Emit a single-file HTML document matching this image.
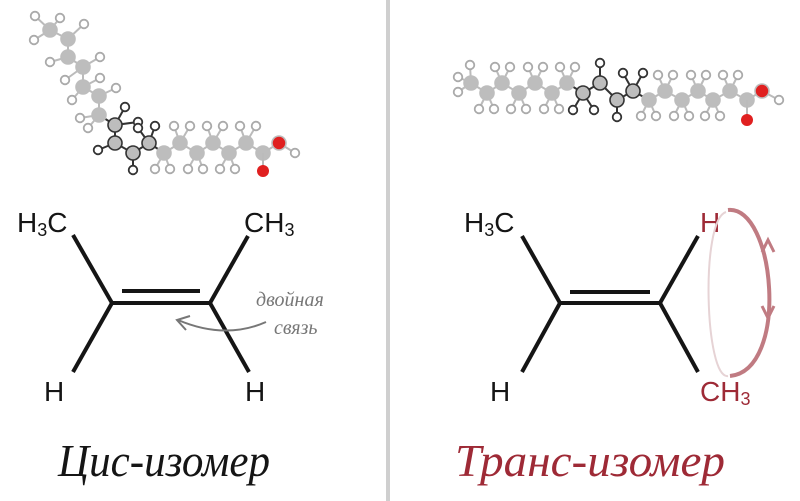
<!DOCTYPE html>
<html><head><meta charset="utf-8"><style>
html,body{margin:0;padding:0;background:#fff;width:800px;height:501px;overflow:hidden}
svg{display:block}
text{font-family:"Liberation Sans",sans-serif}
</style></head><body>
<svg id="s" width="800" height="501" viewBox="0 0 800 501" xmlns="http://www.w3.org/2000/svg">
<rect x="386" y="0" width="4" height="501" fill="#cfcfcf"/>
<g id="mol"></g>
<!-- cis -->
<g stroke="#151515" stroke-width="4" stroke-linecap="butt" fill="none">
<line x1="73" y1="235" x2="112" y2="303"/>
<line x1="110" y1="303" x2="212" y2="303"/>
<line x1="122" y1="291" x2="200" y2="291"/>
<line x1="210" y1="303" x2="248" y2="236"/>
<line x1="112" y1="303" x2="73" y2="372"/>
<line x1="210" y1="303" x2="249" y2="372"/>
</g>
<g fill="#151515" font-size="28">
<text x="17" y="232">H<tspan font-size="18" dy="4">3</tspan><tspan dy="-4">C</tspan></text>
<text x="244" y="232">CH<tspan font-size="18" dy="4">3</tspan></text>
<text x="44" y="401">H</text>
<text x="245" y="401">H</text>
</g>
<g fill="#777" font-size="20" font-style="italic">
<text x="256" y="306" style="font-family:'Liberation Serif',serif">двойная</text>
<text x="274" y="334" style="font-family:'Liberation Serif',serif">связь</text>
</g>
<path d="M266 322 Q225 340 178 320" stroke="#777" stroke-width="2" fill="none"/>
<path d="M190 316 L177 320 L186 330" stroke="#777" stroke-width="2" fill="none"/>
<text x="58" y="476" font-size="46" font-style="italic" fill="#151515" textLength="212" lengthAdjust="spacingAndGlyphs" style="font-family:'Liberation Serif',serif">Цис-изомер</text>
<!-- trans -->
<g stroke="#151515" stroke-width="4" fill="none">
<line x1="522" y1="236" x2="560" y2="303"/>
<line x1="558" y1="303" x2="662" y2="303"/>
<line x1="570" y1="292" x2="650" y2="292"/>
<line x1="660" y1="303" x2="698" y2="236"/>
<line x1="560" y1="303" x2="522" y2="372"/>
<line x1="660" y1="303" x2="698" y2="372"/>
</g>
<g font-size="28">
<text x="464" y="232" fill="#151515">H<tspan font-size="18" dy="4">3</tspan><tspan dy="-4">C</tspan></text>
<text x="700" y="232" fill="#9e2a36">H</text>
<text x="700" y="401" fill="#9e2a36">CH<tspan font-size="18" dy="4">3</tspan></text>
<text x="490" y="401" fill="#151515">H</text>
</g>
<path d="M726 212 C700 220 705 380 728 376" stroke="#e6d3d5" stroke-width="2" fill="none"/>
<path d="M728 210 C775 205 790 370 730 376" stroke="#c07b82" stroke-width="4" fill="none"/>
<path d="M762 252 L768 240 L774 252 M762 306 L768 318 L774 306" stroke="#c07b82" stroke-width="3" fill="none"/>
<text x="455" y="476" font-size="46" font-style="italic" fill="#9e2a36" textLength="270" lengthAdjust="spacingAndGlyphs" style="font-family:'Liberation Serif',serif">Транс-изомер</text>
</svg>
<script>
(function(){
var g=document.getElementById('mol'),out='';
function C(list,hl){
 for(var i=0;i<list.length-1;i++){var a=list[i],b=list[i+1];out+='<line x1="'+a[0]+'" y1="'+a[1]+'" x2="'+b[0]+'" y2="'+b[1]+'" stroke="'+(a[2]||b[2]?'#333':'#bbb')+'" stroke-width="2"/>';}
 hl.forEach(function(h){out+='<line x1="'+h[0]+'" y1="'+h[1]+'" x2="'+h[2]+'" y2="'+h[3]+'" stroke="'+(h[4]?'#333':'#bbb')+'" stroke-width="2"/>';});
 hl.forEach(function(h){out+='<circle cx="'+h[2]+'" cy="'+h[3]+'" r="4.3" fill="#fff" stroke="'+(h[4]?'#333':'#aaa')+'" stroke-width="1.8"/>';});
 list.forEach(function(c){out+='<circle cx="'+c[0]+'" cy="'+c[1]+'" r="7" fill="'+(c[3]||'#bdbdbd')+'" stroke="'+(c[2]?'#333':'#bdbdbd')+'" stroke-width="1.6"/>';});
}
var cis=[[50,30],[68,39],[68,57],[83,67],[83,87],[99,96],[99,115],[115,125,1],[115,143,1],[133,153,1],[149,143,1],[164,153],[180,143],[197,153],[213,143],[229,153],[246,143],[263,153],[279,143,0,'#e02020']];
var hc=[[50,30,35,16],[50,30,34,40],[50,30,60,18],[68,39,84,24],[68,57,50,62],[83,67,100,57],[83,67,65,80],[83,87,100,78],[99,96,116,88],[83,87,72,100],[99,115,80,118],[99,115,88,128],[115,125,125,107,1],[115,125,138,122,1],[115,143,98,150,1],[133,153,133,170,1],[149,143,155,126,1],[149,143,138,128,1]];
for(var i=11;i<17;i++){var c=cis[i];if(c[1]<150){hc.push([c[0],c[1],c[0]-6,c[1]-17]);hc.push([c[0],c[1],c[0]+10,c[1]-17]);}else{hc.push([c[0],c[1],c[0]-9,c[1]+16]);hc.push([c[0],c[1],c[0]+6,c[1]+16]);}}
hc.push([279,143,295,153]);
C(cis,hc);
out+='<line x1="263" y1="153" x2="263" y2="171" stroke="#bbb" stroke-width="2"/><circle cx="263" cy="171" r="6" fill="#e02020"/>';
var tr=[[471,83],[487,93],[502,83],[519,93],[535,83],[552,93],[567,83],[583,93,1],[600,83,1],[617,100,1],[633,91,1],[649,100],[665,91],[682,100],[698,91],[713,100],[730,91],[747,100],[762,91,0,'#e02020']];
var ht=[[471,83,458,77],[471,83,458,92],[471,83,470,65]];
for(var i=1;i<17;i++){var c=tr[i];if(i>=7&&i<=10)continue;
 var up=(i<7?c[1]==83:c[1]==91);
 if(up){ht.push([c[0],c[1],c[0]-7,c[1]-16]);ht.push([c[0],c[1],c[0]+8,c[1]-16]);}else{ht.push([c[0],c[1],c[0]-8,c[1]+16]);ht.push([c[0],c[1],c[0]+7,c[1]+16]);}}
ht.push([583,93,573,110,1],[583,93,594,110,1],[600,83,600,63,1],[617,100,617,117,1],[633,91,623,73,1],[633,91,643,73,1],[762,91,779,100]);
C(tr,ht);
out+='<line x1="747" y1="100" x2="747" y2="120" stroke="#bbb" stroke-width="2"/><circle cx="747" cy="120" r="6" fill="#e02020"/>';
g.innerHTML=out;
})();
</script>
</body></html>
